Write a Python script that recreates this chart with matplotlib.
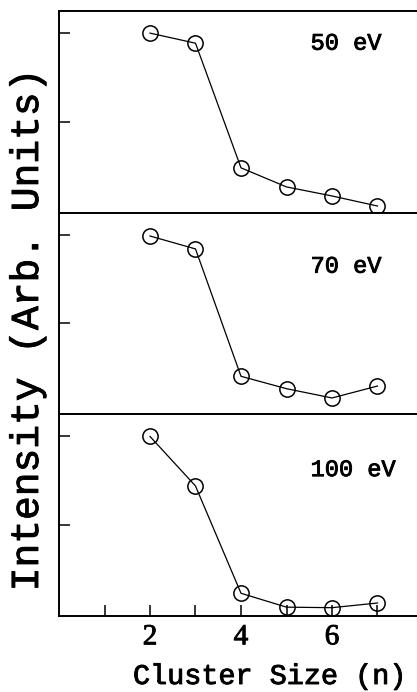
import matplotlib
matplotlib.use("Agg")
import matplotlib.pyplot as plt
import matplotlib.patheffects as pe

# cluster sizes and intensities
cluster_size = [2, 3, 4, 5, 6, 7]
intensity_50 = [2.0, 1.886, 0.477, 0.261, 0.159, 0.045]
intensity_70 = [1.986, 1.84, 0.40, 0.26, 0.155, 0.29]
intensity_100 = [2.0, 1.44, 0.227, 0.07, 0.064, 0.117]
energies = ["50 eV", "70 eV", "100 eV"]
label_y = [1.886, 1.645, 1.625]
x_ticks = [1, 2, 3, 4, 5, 6, 7]
x_tick_labels = ["", "2", "", "4", "", "6", ""]

mono = "Liberation Mono"
serif = "Liberation Serif"
thick = [pe.withStroke(linewidth=0.65, foreground="black")]

fig = plt.figure(figsize=(4.17, 6.92), dpi=100)
left, right = 59 / 417, 423 / 417
top, bottom = 1 - 11 / 692, 1 - 616 / 692
h = (top - bottom) / 3

series = [intensity_50, intensity_70, intensity_100]
for i, vals in enumerate(series):
    ax = fig.add_axes([left, top - (i + 1) * h, right - left, h])
    ax.plot(cluster_size, vals, color="black", lw=0.9,
            marker="o", markersize=11, markerfacecolor="none",
            markeredgecolor="black", markeredgewidth=1.1)
    ax.set_xlim(0, 8)
    ax.set_ylim(-0.03, 2.25)
    ax.set_yticks([1, 2])
    ax.set_yticklabels([])
    ax.tick_params(axis="y", direction="in", length=8, width=1.1)
    for s in ax.spines.values():
        s.set_linewidth(1.4)
    ax.spines["right"].set_visible(False)
    ax.text(5.53, label_y[i], energies[i], family=mono, fontsize=17,
            ha="left", va="center", path_effects=thick)
    if i < 2:
        ax.set_xticks([])
    else:
        ax.set_xticks(x_ticks)
        ax.set_xticklabels(x_tick_labels, family=serif, fontsize=21,
                           path_effects=thick)
        ax.tick_params(axis="x", direction="in", length=8, width=1.1, pad=6)

fig.text(270 / 417, 1 - 677 / 692, "Cluster Size (n)", family=mono,
         fontsize=20.5, ha="center", va="center", path_effects=thick)
fig.text(27 / 417, 1 - 330 / 692, "Intensity (Arb. Units)", family=mono,
         fontsize=28.5, ha="center", va="center", rotation=90,
         path_effects=thick)

fig.savefig("out.png", dpi=100)
